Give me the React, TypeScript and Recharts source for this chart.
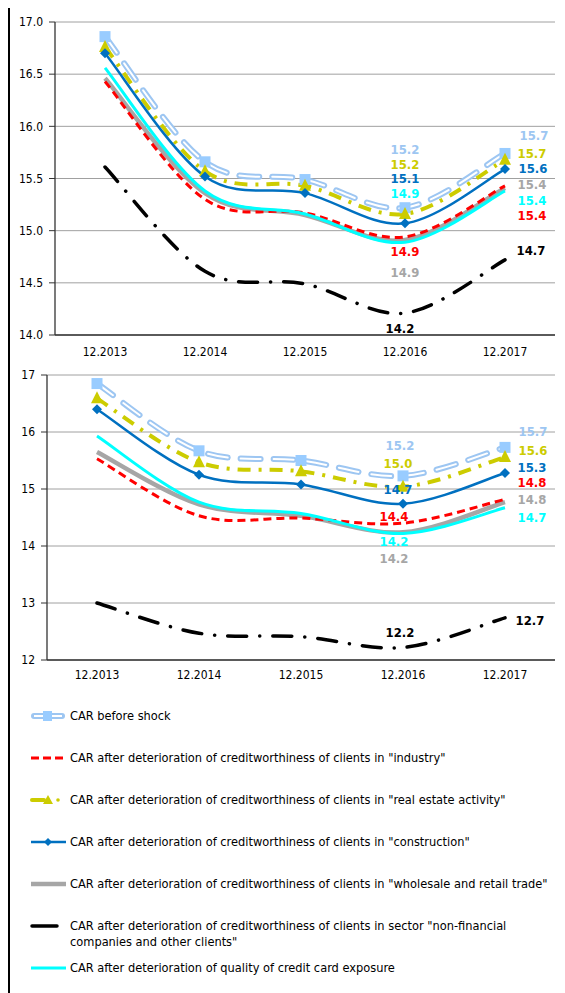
import React from 'react';
import { LineChart, Line, XAxis, YAxis, CartesianGrid, LabelList } from 'recharts';

const categories = ['12.2013', '12.2014', '12.2015', '12.2016', '12.2017'];

// upper panel
const topBeforeShock = [16.86, 15.66, 15.49, 15.22, 15.74];
const topIndustry = [16.43, 15.3, 15.17, 14.94, 15.43];
const topRealEstate = [16.76, 15.57, 15.43, 15.16, 15.68];
const topConstruction = [16.7, 15.52, 15.36, 15.07, 15.59];
const topTrade = [16.46, 15.36, 15.15, 14.91, 15.41];
const topNonFinancial = [15.61, 14.61, 14.49, 14.21, 14.72];
const topCreditCard = [16.56, 15.38, 15.16, 14.89, 15.38];
const topTicks = [14, 14.5, 15, 15.5, 16, 16.5, 17];

// lower panel
const bottomBeforeShock = [16.85, 15.67, 15.5, 15.23, 15.73];
const bottomIndustry = [15.53, 14.53, 14.49, 14.4, 14.82];
const bottomRealEstate = [16.59, 15.47, 15.31, 15.04, 15.56];
const bottomConstruction = [16.4, 15.25, 15.08, 14.74, 15.28];
const bottomTrade = [15.65, 14.73, 14.53, 14.24, 14.77];
const bottomNonFinancial = [13.0, 12.47, 12.41, 12.22, 12.74];
const bottomCreditCard = [15.93, 14.77, 14.57, 14.22, 14.67];
const bottomTicks = [12, 13, 14, 15, 16, 17];

const seriesNames = [
  'CAR before shock',
  'CAR after deterioration of creditworthiness of clients in "industry"',
  'CAR after deterioration of creditworthiness of clients in "real estate activity"',
  'CAR after deterioration of creditworthiness of clients in "construction"',
  'CAR after deterioration of creditworthiness of clients in "wholesale and retail trade"',
  'CAR after deterioration of creditworthiness of clients in sector "non-financial companies and other clients"',
  'CAR after deterioration of quality of credit card exposure',
];

const FONT = '"DejaVu Sans Condensed", "DejaVu Sans", Tahoma, sans-serif';

const C = {
  before: '#9DC6F2',
  beforeMark: '#99CCFF',
  industry: '#FF0000',
  realEstate: '#CCCC00',
  construction: '#0070C0',
  trade: '#A6A6A6',
  nonFinancial: '#000000',
  creditCard: '#00FFFF',
};

// Excel-style smoothed line (Catmull-Rom bezier)
const excelSmooth: any = (context: any) => {
  let pts: number[][] = [];
  return {
    areaStart() {},
    areaEnd() {},
    lineStart() {
      pts = [];
    },
    point(x: number, y: number) {
      pts.push([+x, +y]);
    },
    lineEnd() {
      const n = pts.length;
      if (!n) return;
      context.moveTo(pts[0][0], pts[0][1]);
      for (let i = 0; i < n - 1; i++) {
        const p0 = pts[Math.max(i - 1, 0)];
        const p1 = pts[i];
        const p2 = pts[i + 1];
        const p3 = pts[Math.min(i + 2, n - 1)];
        context.bezierCurveTo(
          p1[0] + (p2[0] - p0[0]) / 6,
          p1[1] + (p2[1] - p0[1]) / 6,
          p2[0] - (p3[0] - p1[0]) / 6,
          p2[1] - (p3[1] - p1[1]) / 6,
          p2[0],
          p2[1]
        );
      }
    },
  };
};

const buildRows = (lists: Record<string, number[]>) =>
  categories.map((cat, i) => {
    const row: Record<string, any> = { cat };
    Object.keys(lists).forEach(k => (row[k] = lists[k][i]));
    return row;
  });

const topRows = buildRows({
  before: topBeforeShock,
  industry: topIndustry,
  realEstate: topRealEstate,
  construction: topConstruction,
  trade: topTrade,
  nonFinancial: topNonFinancial,
  creditCard: topCreditCard,
});

const bottomRows = buildRows({
  before: bottomBeforeShock,
  industry: bottomIndustry,
  realEstate: bottomRealEstate,
  construction: bottomConstruction,
  trade: bottomTrade,
  nonFinancial: bottomNonFinancial,
  creditCard: bottomCreditCard,
});

// label offsets [dx, dy] for 12.2016 and 12.2017
const topLabelPos: Record<string, number[][]> = {
  before: [[0, -58], [29, -18]],
  realEstate: [[0, -50], [27, -6]],
  construction: [[0, -45], [28, -1]],
  creditCard: [[0, -49], [27, 9]],
  industry: [[0, 14], [27, 30]],
  trade: [[0, 32], [27, -4]],
  nonFinancial: [[-5, 15], [26, -10]],
};

const bottomLabelPos: Record<string, number[][]> = {
  before: [[-3, -31], [28, -16]],
  realEstate: [[-5, -23], [28, -7]],
  construction: [[-5, -15], [27, -6]],
  industry: [[-9, -7], [27, -17]],
  creditCard: [[-9, 8], [27, 10]],
  trade: [[-9, 26], [27, -3]],
  nonFinancial: [[-3, -15], [25, 2]],
};

const makeLabel = (color: string, pos: number[][]) => (props: any) => {
  const { x, y, value, index } = props;
  if (index < 3 || value == null) return null;
  const [dx, dy] = pos[index - 3];
  return (
    <text
      x={x + dx}
      y={y + dy}
      dy="0.36em"
      textAnchor="middle"
      fill={color}
      fontSize={13}
      fontWeight="bold"
      fontFamily={FONT}
    >
      {Number(value).toFixed(1)}
    </text>
  );
};

const SquareDot = (props: any) => {
  const { cx, cy } = props;
  if (cx == null || cy == null) return null;
  return <rect key={`sq-${cx}`} x={cx - 5.5} y={cy - 5.5} width={11} height={11} fill={C.beforeMark} />;
};

const TriangleDot = (props: any) => {
  const { cx, cy } = props;
  if (cx == null || cy == null) return null;
  return <path key={`tr-${cx}`} d={`M${cx},${cy - 7} L${cx + 6},${cy + 5} L${cx - 6},${cy + 5} Z`} fill={C.realEstate} />;
};

const DiamondDot = (props: any) => {
  const { cx, cy } = props;
  if (cx == null || cy == null) return null;
  return <path key={`dm-${cx}`} d={`M${cx},${cy - 5} L${cx + 5},${cy} L${cx},${cy + 5} L${cx - 5},${cy} Z`} fill={C.construction} />;
};

interface PanelProps {
  rows: any[];
  ticks: number[];
  domain: [number, number];
  labelPos: Record<string, number[][]>;
  height: number;
  top: number;
  yWidth: number;
  pad: number;
  tickFmt: (v: number) => string;
  xMargin: number;
}

const Panel: React.FC<PanelProps> = ({ rows, ticks, domain, labelPos, height, top, yWidth, pad, tickFmt, xMargin }) => (
  <LineChart width={555} height={height} data={rows} margin={{ top, right: 10, bottom: 0, left: 0 }}>
    <CartesianGrid horizontal vertical={false} stroke="#A0A0A0" strokeWidth={1} />
    <XAxis
      dataKey="cat"
      padding={{ left: pad, right: pad }}
      tickLine={false}
      tickSize={0}
      tickMargin={xMargin}
      height={31}
      axisLine={{ stroke: '#333', strokeWidth: 1.3 }}
      tick={{ fill: '#000', fontSize: 12, fontFamily: FONT }}
    />
    <XAxis xAxisId="frame" dataKey="cat" orientation="top" height={0} tick={false} tickLine={false} axisLine={{ stroke: '#333', strokeWidth: 1.3 }} />
    <YAxis
      domain={domain}
      ticks={ticks}
      width={yWidth}
      tickSize={6}
      tickMargin={6}
      tickFormatter={tickFmt}
      axisLine={{ stroke: '#333', strokeWidth: 1.3 }}
      tickLine={{ stroke: '#333' }}
      tick={{ fill: '#000', fontSize: 12, fontFamily: FONT }}
      allowDataOverflow
    />
    <YAxis yAxisId="frame" orientation="right" domain={domain} width={0} tick={false} tickLine={false} axisLine={{ stroke: '#333', strokeWidth: 1.3 }} />

    <Line dataKey="before" type={excelSmooth} stroke={C.before} strokeWidth={6} strokeDasharray="20 13" strokeLinecap="round" dot={false} isAnimationActive={false} />
    <Line dataKey="before" type={excelSmooth} stroke="#FFFFFF" strokeWidth={2} strokeDasharray="20 13" strokeLinecap="round" dot={SquareDot} activeDot={false} isAnimationActive={false}>
      <LabelList dataKey="before" content={makeLabel(C.before, labelPos.before)} />
    </Line>
    <Line dataKey="trade" type={excelSmooth} stroke={C.trade} strokeWidth={4.5} dot={false} isAnimationActive={false}>
      <LabelList dataKey="trade" content={makeLabel(C.trade, labelPos.trade)} />
    </Line>
    <Line dataKey="industry" type={excelSmooth} stroke={C.industry} strokeWidth={3} strokeDasharray="8 5" dot={false} isAnimationActive={false}>
      <LabelList dataKey="industry" content={makeLabel(C.industry, labelPos.industry)} />
    </Line>
    <Line dataKey="realEstate" type={excelSmooth} stroke={C.realEstate} strokeWidth={4} strokeDasharray="13 8 3 8" dot={TriangleDot} activeDot={false} isAnimationActive={false}>
      <LabelList dataKey="realEstate" content={makeLabel(C.realEstate, labelPos.realEstate)} />
    </Line>
    <Line dataKey="construction" type={excelSmooth} stroke={C.construction} strokeWidth={2.5} dot={DiamondDot} activeDot={false} isAnimationActive={false}>
      <LabelList dataKey="construction" content={makeLabel(C.construction, labelPos.construction)} />
    </Line>
    <Line dataKey="nonFinancial" type={excelSmooth} stroke={C.nonFinancial} strokeWidth={3.5} strokeDasharray="19 13 0.1 13" strokeLinecap="round" dot={false} isAnimationActive={false}>
      <LabelList dataKey="nonFinancial" content={makeLabel(C.nonFinancial, labelPos.nonFinancial)} />
    </Line>
    <Line dataKey="creditCard" type={excelSmooth} stroke={C.creditCard} strokeWidth={3} dot={false} isAnimationActive={false}>
      <LabelList dataKey="creditCard" content={makeLabel(C.creditCard, labelPos.creditCard)} />
    </Line>
  </LineChart>
);

const Swatch: React.FC<{ i: number }> = ({ i }) => {
  const w = 36;
  switch (i) {
    case 0:
      return (
        <svg width={w} height={14}>
          <line x1={4} y1={7} x2={32} y2={7} stroke={C.before} strokeWidth={6} strokeLinecap="round" />
          <line x1={4} y1={7} x2={32} y2={7} stroke="#fff" strokeWidth={2} />
          <rect x={13} y={2} width={9} height={10} fill={C.beforeMark} />
        </svg>
      );
    case 1:
      return (
        <svg width={w} height={14}>
          <line x1={1} y1={7} x2={33} y2={7} stroke={C.industry} strokeWidth={3} strokeDasharray="8 4" />
        </svg>
      );
    case 2:
      return (
        <svg width={w} height={14}>
          <line x1={2} y1={7} x2={14} y2={7} stroke={C.realEstate} strokeWidth={4} strokeLinecap="round" />
          <path d="M18,2 L23,11 L13,11 Z" fill={C.realEstate} />
          <circle cx={28} cy={7} r={1.8} fill={C.realEstate} />
        </svg>
      );
    case 3:
      return (
        <svg width={w} height={14}>
          <line x1={1} y1={7} x2={36} y2={7} stroke={C.construction} strokeWidth={2.5} />
          <path d="M18,3 L22,7 L18,11 L14,7 Z" fill={C.construction} />
        </svg>
      );
    case 4:
      return (
        <svg width={w} height={14}>
          <line x1={1} y1={7} x2={36} y2={7} stroke={C.trade} strokeWidth={4.5} />
        </svg>
      );
    case 5:
      return (
        <svg width={w} height={14}>
          <line x1={2} y1={7} x2={27} y2={7} stroke="#000" strokeWidth={3.5} strokeLinecap="round" />
        </svg>
      );
    default:
      return (
        <svg width={w} height={14}>
          <line x1={1} y1={7} x2={36} y2={7} stroke={C.creditCard} strokeWidth={3} />
        </svg>
      );
  }
};

const App: React.FC = () => (
  <div
    style={{
      position: 'relative',
      width: 555,
      marginTop: -4,
      borderTop: '2px solid #000',
      borderLeft: '2px solid #000',
      fontFamily: FONT,
    }}
  >
    <div style={{ position: 'absolute', top: -24, left: 20, fontSize: 20, lineHeight: '22px', color: '#000', whiteSpace: 'nowrap' }}>
      percentages
    </div>
    <Panel rows={topRows} ticks={topTicks} domain={[14, 17]} labelPos={topLabelPos} height={360} top={16} yWidth={45} pad={50} tickFmt={v => v.toFixed(1)} xMargin={12} />
    <Panel rows={bottomRows} ticks={bottomTicks} domain={[12, 17]} labelPos={bottomLabelPos} height={325} top={9} yWidth={37} pad={50} tickFmt={v => String(v)} xMargin={10} />
    <div style={{ paddingTop: 17, paddingLeft: 20 }}>
      {seriesNames.map((name, i) => (
        <div key={name} style={{ display: 'flex', alignItems: 'flex-start', minHeight: 42, fontSize: 12.7, lineHeight: '16px' }}>
          <div style={{ width: 40, flexShrink: 0, height: 16, display: 'flex', alignItems: 'center' }}>
            <Swatch i={i} />
          </div>
          <div style={{ width: 494 }}>{name}</div>
        </div>
      ))}
    </div>
  </div>
);

export default App;
